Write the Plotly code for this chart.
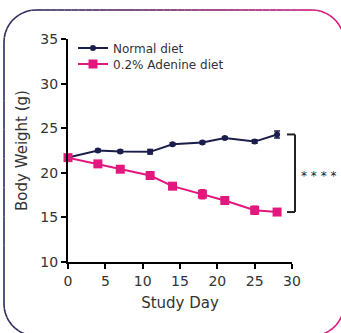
import plotly.graph_objects as go
import numpy as np

days = [0, 4, 7, 11, 14, 18, 21, 25, 28]
normal = [21.7, 22.5, 22.4, 22.35, 23.2, 23.4, 23.9, 23.5, 24.3]
normal_err = [0.2, 0.15, 0.15, 0.25, 0.15, 0.15, 0.15, 0.2, 0.4]
adenine = [21.7, 21.0, 20.4, 19.7, 18.5, 17.6, 16.9, 15.8, 15.6]
adenine_err = [0.2, 0.2, 0.2, 0.3, 0.3, 0.5, 0.4, 0.45, 0.35]

NAVY = "#1b1e4b"
PINK = "#e2187f"
FONT = "DejaVu Sans"

W, H = 341, 333
L, R, T, B = 68, 49, 39, 71
pw, ph = W - L - R, H - T - B

def px(x):
    return (x - L) / pw

def py(y):
    return (H - B - y) / ph

fig = go.Figure()
fig.add_trace(go.Scatter(
    x=days, y=normal, mode="lines+markers", name="Normal diet",
    line=dict(color=NAVY, width=2),
    marker=dict(symbol="circle", size=6, color=NAVY),
    error_y=dict(type="data", array=normal_err, color=NAVY, thickness=1.5, width=3),
    cliponaxis=False, legend="legend",
))
fig.add_trace(go.Scatter(
    x=days, y=adenine, mode="lines+markers", name="0.2% Adenine diet",
    line=dict(color=PINK, width=2),
    marker=dict(symbol="square", size=9, color=PINK),
    error_y=dict(type="data", array=adenine_err, color=PINK, thickness=1.5, width=3),
    cliponaxis=False, legend="legend2",
))

shapes = []
# rounded gradient border (decoration)
x0, x1, y0, y1, rad = 4, 344, 10, 336, 32
pts = []
for a in np.linspace(np.pi * 1.5, np.pi, 12):
    pts.append((x0 + rad + rad * np.cos(a), y1 - rad - rad * np.sin(a)))
for yy in np.linspace(y1 - rad, y0 + rad, 10):
    pts.append((x0, yy))
for a in np.linspace(np.pi, np.pi / 2, 12):
    pts.append((x0 + rad + rad * np.cos(a), y0 + rad - rad * np.sin(a)))
for xx in np.linspace(x0 + rad, x1 - rad, 40):
    pts.append((xx, y0))
for a in np.linspace(np.pi / 2, 0, 12):
    pts.append((x1 - rad + rad * np.cos(a), y0 + rad - rad * np.sin(a)))
for yy in np.linspace(y0 + rad, y1 - rad, 10):
    pts.append((x1, yy))
for a in np.linspace(0, -np.pi / 2, 12):
    pts.append((x1 - rad + rad * np.cos(a), y1 - rad - rad * np.sin(a)))
for xx in np.linspace(x1 - rad, x0 + rad, 40):
    pts.append((xx, y1))

c0 = np.array([0x2a, 0x2d, 0x5e])
c1 = np.array([0xe2, 0x18, 0x7f])
for (ax, ay), (bx, by) in zip(pts[:-1], pts[1:]):
    t = min(max(((ax + bx) / 2 - x0) / (x1 - x0), 0), 1)
    t = t ** 1.3
    c = (c0 * (1 - t) + c1 * t).astype(int)
    shapes.append(dict(type="line", xref="paper", yref="paper",
                       x0=px(ax), y0=py(ay), x1=px(bx), y1=py(by),
                       line=dict(color="rgb(%d,%d,%d)" % tuple(c), width=1.6),
                       layer="below"))

# significance bracket
ytop, ybot = normal[-1], adenine[-1]
def yp(v):
    return (v - 10) / 25
bx0, bx1 = px(287), px(295)
bcol = "#222222"
shapes.append(dict(type="line", xref="paper", yref="paper", x0=bx0, x1=bx1, y0=yp(ytop), y1=yp(ytop), line=dict(color=bcol, width=2)))
shapes.append(dict(type="line", xref="paper", yref="paper", x0=bx1, x1=bx1, y0=yp(ytop), y1=yp(ybot), line=dict(color=bcol, width=2)))
shapes.append(dict(type="line", xref="paper", yref="paper", x0=bx0, x1=bx1, y0=yp(ybot), y1=yp(ybot), line=dict(color=bcol, width=2)))

leg_common = dict(xanchor="left", yanchor="middle", bgcolor="rgba(0,0,0,0)",
                  font=dict(size=12, color="#333333"), itemwidth=30)

fig.update_layout(
    width=W, height=H,
    margin=dict(l=L, r=R, t=T, b=B),
    paper_bgcolor="white", plot_bgcolor="white",
    font=dict(family=FONT, size=13, color="#333333"),
    shapes=shapes,
    showlegend=True,
    legend=dict(x=px(73), y=py(48), **leg_common),
    legend2=dict(x=px(73), y=py(64), **leg_common),
    annotations=[dict(text="* * * *", xref="paper", yref="paper",
                      x=px(299), y=yp((ytop + ybot) / 2), xanchor="left", yanchor="middle",
                      yshift=-3, showarrow=False, font=dict(size=12, color="#222222"))],
    xaxis=dict(range=[0, 30], tickvals=[0, 5, 10, 15, 20, 25, 30],
               showline=True, linecolor="black", linewidth=2,
               ticks="outside", ticklen=5, tickwidth=2, tickcolor="black",
               showgrid=False, zeroline=False, automargin=False,
               title=dict(text="Study Day", font=dict(size=15), standoff=10),
               tickfont=dict(size=14)),
    yaxis=dict(range=[10, 35], tickvals=[10, 15, 20, 25, 30, 35],
               showline=True, linecolor="black", linewidth=2,
               ticks="outside", ticklen=5, tickwidth=2, tickcolor="black",
               showgrid=False, zeroline=False, automargin=False,
               title=dict(text="Body Weight (g)", font=dict(size=15), standoff=9),
               tickfont=dict(size=14)),
)

fig.write_html("out.html", config={"displayModeBar": False},
               post_script="document.body.style.margin='0';")
